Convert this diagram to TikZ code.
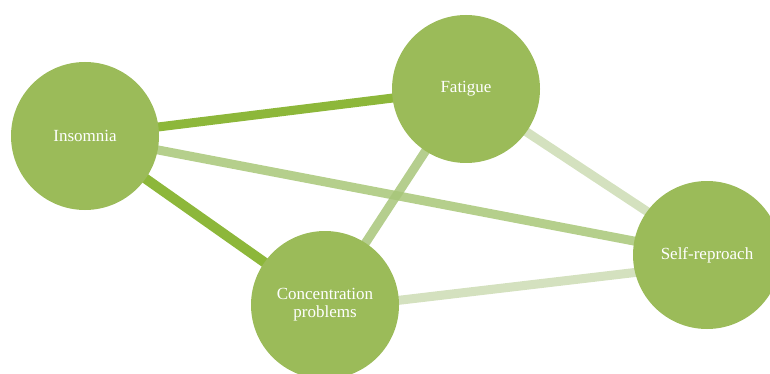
\documentclass[tikz,border=0pt]{standalone}
\usepackage{fontspec}
\setmainfont{Liberation Serif}
\usetikzlibrary{backgrounds}

\definecolor{nodegreen}{HTML}{9BBB59}
\definecolor{strongedge}{HTML}{8DB73A}
\definecolor{midedge}{HTML}{B5CF8C}
\definecolor{crossedge}{HTML}{A8C67A}
\definecolor{weakedge}{HTML}{D4E1BF}

\tikzset{
	symptom/.style = {circle, fill=nodegreen, minimum size=148pt, inner sep=0pt,
		text=white, align=center, font=\fontsize{17}{18}\selectfont},
	link/.style = {line width=9pt}
}

\begin{document}
\begin{tikzpicture}[x=1pt, y=-1pt]
		\clip (0,0) rectangle (770,374);
		\useasboundingbox (0,0) rectangle (770,374);
		
		\node[symptom] (insomnia) at (85,136) {Insomnia};
		\node[symptom] (fatigue) at (466,89) {Fatigue};
		\node[symptom] (concentration) at (325,305) {Concentration\\problems};
		\node[symptom] (selfreproach) at (707,255) {Self-reproach};
		
		\begin{pgfonlayer}{background}
			\begin{scope}[link]
				\draw[strongedge] (insomnia.center) -- (fatigue.center);
				\draw[strongedge, line width=10pt] (insomnia.center) -- (concentration.center);
				\draw[midedge] (insomnia.center) -- (selfreproach.center);
				\draw[weakedge] ([yshift=-3pt]fatigue.center) -- ([yshift=4pt]selfreproach.center);
				\draw[weakedge] ([yshift=-4pt]concentration.center) -- ([yshift=-9pt]selfreproach.center);
				\draw[crossedge, opacity=0.85] (fatigue.center) -- (concentration.center);
			\end{scope}
		\end{pgfonlayer}
	\end{tikzpicture}
\end{document}
